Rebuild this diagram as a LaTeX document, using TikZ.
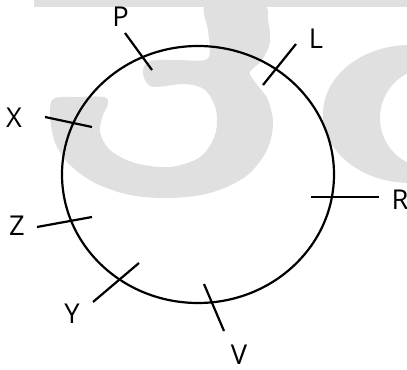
\documentclass[tikz,border=0pt]{standalone}
\usepackage{fontspec}
\setmainfont{Open Sans}
\definecolor{wm}{RGB}{224,224,224}
\begin{document}
\begin{tikzpicture}[x=0.75pt,y=-0.75pt,
  lbl/.style={inner sep=0pt, font=\fontsize{20.5}{24}\selectfont},
  tick/.style={line width=1.65pt},
  ring/.style={line width=1.65pt}]
\path[use as bounding box] (0,0) rectangle (407,370);
% watermark
\begin{scope}
\clip (0,0) rectangle (407,370);
\fill[wm] (34,0) rectangle (407,7);
\fill[wm] plot[smooth cycle, tension=0.55] coordinates {
  (104,97) (78,97) (55,98) (50,108) (51,125) (56,145) (70,165) (95,183)
  (130,195) (170,198) (210,193) (245,177) (266,152) (273,125) (268,100)
  (255,82) (250,72) (262,60) (270,42) (268,20) (262,4)
  (207,4) (208,30) (210,50) (205,60) (175,60) (150,61) (143,70) (146,82)
  (155,87) (185,84) (205,90) (216,110) (215,135) (200,157) (170,167)
  (135,163) (110,150) (100,132) (103,115) (108,104)};
\fill[wm, even odd rule] (410,114) ellipse [x radius=87, y radius=69]
  (430,118) ellipse [x radius=50, y radius=50];
\end{scope}
% circle
\draw[ring] (198,174.5) ellipse [x radius=136, y radius=128.5];
% ticks
\coordinate (P1) at (125,33);  \coordinate (P2) at (152,70);
\coordinate (L1) at (296,44);  \coordinate (L2) at (263,85);
\coordinate (X1) at (45,117);  \coordinate (X2) at (92,127);
\coordinate (R1) at (311,197); \coordinate (R2) at (379,197);
\coordinate (Z1) at (37,227);  \coordinate (Z2) at (92,217);
\coordinate (Y1) at (93,302);  \coordinate (Y2) at (139,263);
\coordinate (V1) at (204,284); \coordinate (V2) at (224,331);
\draw[tick] (P1) -- (P2);
\draw[tick] (L1) -- (L2);
\draw[tick] (X1) -- (X2);
\draw[tick] (R1) -- (R2);
\draw[tick] (Z1) -- (Z2);
\draw[tick] (Y1) -- (Y2);
\draw[tick] (V1) -- (V2);
% labels
\node[lbl] (P) at (120.5,16.5) {P};
\node[lbl] (L) at (316,39) {L};
\node[lbl] (X) at (14,117.5) {X};
\node[lbl] (R) at (400,200) {R};
\node[lbl] (Z) at (17,226) {Z};
\node[lbl] (Y) at (72,314) {Y};
\node[lbl] (V) at (239,354.5) {V};
\end{tikzpicture}
\end{document}
